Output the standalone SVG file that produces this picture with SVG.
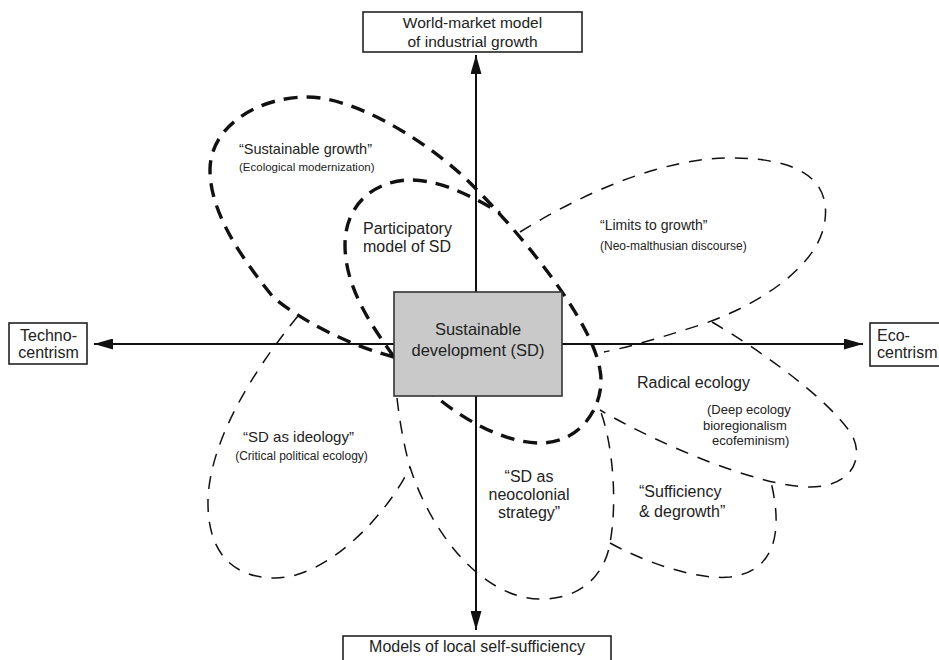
<svg xmlns="http://www.w3.org/2000/svg" width="939" height="660" viewBox="0 0 939 660">
<defs>
<marker id="arr" markerUnits="userSpaceOnUse" markerWidth="19" markerHeight="11" refX="19" refY="5.5" orient="auto">
<path d="M0,0 L19,5.5 L0,11 Z" fill="#111"/>
</marker>
<style>
text{font-family:"Liberation Sans",Arial,sans-serif;fill:#222}
.box{fill:#fff;stroke:#222;stroke-width:1.6}
.thick{fill:none;stroke:#111;stroke-width:3.4;stroke-dasharray:14 9}
.thin{fill:none;stroke:#111;stroke-width:1.5;stroke-dasharray:13 10}
.axis{stroke:#111;stroke-width:2;fill:none}
.big{font-size:16px}
.mid{font-size:14.5px}
.sm{font-size:12px}
.c{text-anchor:middle}
</style>
</defs>
<rect width="939" height="660" fill="#fff"/>

<g id="sustainable-growth">
<path class="thick" d="M394,357 C350,346 300,320 273,297 C245,262 210,215 210,170 C210,125 260,97 307,97 C360,97 440,150 477,190 C515,228 592,318 600,370 C606,400 585,443 540,443 C505,443 465,420 440,400 C420,385 405,368 394,357 Z"/>
<text class="mid" x="239" y="154">“Sustainable growth”</text>
<text class="sm" x="239" y="171" style="font-size:11.5px">(Ecological modernization)</text>
</g>

<g id="participatory">
<path class="thick" d="M394,357 C375,330 345,290 345,245 C345,200 380,180 410,180 C440,180 470,195 500,213"/>
<text class="big" x="363" y="234">Participatory</text>
<text class="big" x="363" y="252">model of SD</text>
</g>

<g id="limits-to-growth">
<path class="thin" d="M520,232 C580,195 660,158 730,158 C800,158 830,180 825,220 C820,265 760,305 700,325 C660,338 625,348 604,352"/>
<text class="mid" x="600" y="230" style="font-size:14px">“Limits to growth”</text>
<text class="sm" x="600" y="250">(Neo-malthusian discourse)</text>
</g>

<g id="radical-ecology">
<path class="thin" d="M712,322 C760,350 830,400 852,435 C865,460 850,487 810,487 C760,487 660,445 600,410"/>
<text class="big" x="637" y="388">Radical ecology</text>
<text x="707" y="414" style="font-size:13px">(Deep ecology</text>
<text x="703" y="430" style="font-size:13px">bioregionalism</text>
<text x="712" y="445" style="font-size:13px">ecofeminism)</text>
</g>

<g id="sufficiency-degrowth">
<path class="thin" d="M610,543 C650,565 700,580 730,577 C770,572 785,540 771,482"/>
<text class="big" x="639" y="497">“Sufficiency</text>
<text class="big" x="639" y="517">&amp; degrowth”</text>
</g>

<g id="sd-neocolonial">
<path class="thin" d="M397,398 C400,425 405,450 410,467 C430,530 480,598 540,599 C580,600 605,575 610,543 C618,500 612,440 600,410"/>
<text class="big c" x="529" y="482">“SD as</text>
<text class="big c" x="529" y="500">neocolonial</text>
<text class="big c" x="529" y="518">strategy”</text>
</g>

<g id="sd-ideology">
<path class="thin" d="M298,316 C270,350 210,430 208,500 C207,560 240,578 275,578 C330,578 390,510 410,467"/>
<text class="c" x="298.5" y="442" style="font-size:15px">“SD as ideology”</text>
<text class="sm c" x="301.5" y="460">(Critical political ecology)</text>
</g>

<g id="connectors">
<line class="axis" x1="476" y1="344" x2="94" y2="344" marker-end="url(#arr)"/>
<line class="axis" x1="476" y1="344" x2="863" y2="344" marker-end="url(#arr)"/>
<line class="axis" x1="476" y1="344" x2="476" y2="55" marker-end="url(#arr)"/>
<line class="axis" x1="476" y1="344" x2="476" y2="630" marker-end="url(#arr)"/>
</g>

<g id="sustainable-development">
<rect x="394" y="292" width="168" height="104" fill="#c9c9c9" stroke="#333" stroke-width="1.6"/>
<text class="c" x="478" y="335" style="font-size:16.5px">Sustainable</text>
<text class="c" x="478" y="356" style="font-size:16.5px">development (SD)</text>
</g>

<g id="world-market">
<rect class="box" x="363" y="12" width="219" height="40"/>
<text class="c" x="472.5" y="28" style="font-size:15.5px">World-market model</text>
<text class="c" x="472.5" y="47" style="font-size:15.5px">of industrial growth</text>
</g>

<g id="technocentrism">
<rect class="box" x="9" y="323" width="78" height="41"/>
<text class="big c" x="48.5" y="341">Techno-</text>
<text class="big c" x="48.5" y="358">centrism</text>
</g>

<g id="ecocentrism">
<rect class="box" x="870" y="323" width="80" height="43"/>
<text class="big" x="877" y="341">Eco-</text>
<text class="big" x="877" y="358">centrism</text>
</g>

<g id="local-self-sufficiency">
<rect class="box" x="343" y="636" width="268" height="40"/>
<text class="big c" x="477" y="652">Models of local self-sufficiency</text>
</g>
</svg>
